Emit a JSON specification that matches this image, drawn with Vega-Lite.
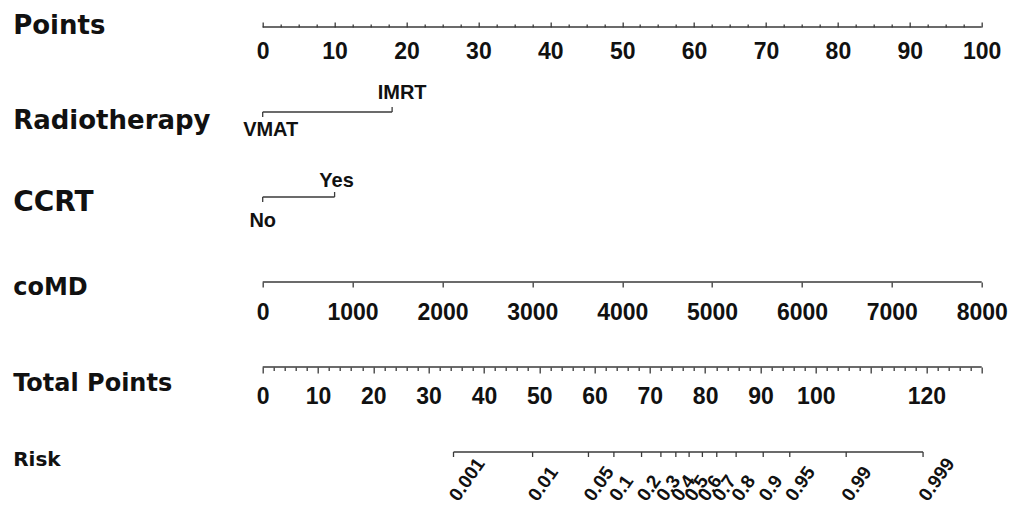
{
  "$schema": "https://vega.github.io/schema/vega-lite/v6.json",
  "background": "white",
  "padding": {"left": 12.7, "top": 5, "right": 0, "bottom": 0},
  "bounds": "flush",
  "spacing": 0,
  "config": {
    "view": {"stroke": null},
    "axis": {
      "grid": false,
      "domain": false,
      "labelFont": "Liberation Sans",
      "labelFontWeight": "bold",
      "labelFontSize": 23,
      "labelColor": "#111111",
      "labelFlush": false,
      "labelOverlap": false,
      "tickColor": "#3a3a3a",
      "tickWidth": 1.3,
      "titleFont": "DejaVu Sans",
      "titleFontWeight": "bold",
      "titleFontSize": 26,
      "titleColor": "#111111",
      "titleAlign": "left",
      "titleAngle": 0,
      "titleBaseline": "alphabetic",
      "titleX": -250
    }
  },
  "vconcat": [
    {
      "width": 719,
      "height": 22,
      "data": {"values": [{"scale": "Points", "from": 0, "to": 100}]},
      "mark": {"type": "rule", "color": "#3a3a3a", "strokeWidth": 1.3},
      "encoding": {
        "x": {
          "field": "from", "type": "quantitative",
          "scale": {"domain": [0, 100], "nice": false, "zero": false},
          "axis": {
            "title": "Points", "titleY": 6.3,
            "values": [0,2.5,5,7.5,10,12.5,15,17.5,20,22.5,25,27.5,30,32.5,35,37.5,40,42.5,45,47.5,50,52.5,55,57.5,60,62.5,65,67.5,70,72.5,75,77.5,80,82.5,85,87.5,90,92.5,95,97.5,100],
            "tickSize": {"condition": {"test": "datum.value % 10 === 0", "value": -5}, "value": -3},
            "labelExpr": "datum.value % 10 === 0 ? datum.label : ''",
            "labelPadding": 18
          }
        },
        "x2": {"field": "to"},
        "y": {"value": 22}
      }
    },
    {
      "width": 719,
      "height": 85,
      "data": {"values": [{"level": "VMAT", "pts": 0}, {"level": "IMRT", "pts": 18}]},
      "layer": [
        {
          "mark": {"type": "rule", "color": "#3a3a3a", "strokeWidth": 1.3},
          "encoding": {
            "x": {"aggregate": "min", "field": "pts", "type": "quantitative",
              "scale": {"domain": [0, 100], "nice": false, "zero": false},
              "axis": {"title": "Radiotherapy", "titleY": 16.3, "labels": false, "ticks": false}},
            "x2": {"aggregate": "max", "field": "pts"},
            "y": {"value": 85}
          }
        },
        {
          "transform": [{"filter": "datum.level == 'VMAT'"}],
          "mark": {"type": "rule", "color": "#3a3a3a", "strokeWidth": 1.3},
          "encoding": {
            "x": {"field": "pts", "type": "quantitative",
              "axis": {"title": "Radiotherapy", "titleY": 16.3, "labels": false, "ticks": false}},
            "y": {"value": 85}, "y2": {"value": 90}
          }
        },
        {
          "transform": [{"filter": "datum.level == 'IMRT'"}],
          "mark": {"type": "rule", "color": "#3a3a3a", "strokeWidth": 1.3},
          "encoding": {
            "x": {"field": "pts", "type": "quantitative",
              "axis": {"title": "Radiotherapy", "titleY": 16.3, "labels": false, "ticks": false}},
            "y": {"value": 80}, "y2": {"value": 85}
          }
        },
        {
          "transform": [{"filter": "datum.level == 'IMRT'"}],
          "mark": {"type": "text", "font": "Liberation Sans", "fontWeight": "bold", "fontSize": 20, "color": "#111111", "baseline": "alphabetic", "align": "center", "dx": 10},
          "encoding": {
            "x": {"field": "pts", "type": "quantitative",
              "axis": {"title": "Radiotherapy", "titleY": 16.3, "labels": false, "ticks": false}},
            "y": {"value": 72.3},
            "text": {"field": "level"}
          }
        },
        {
          "transform": [{"filter": "datum.level == 'VMAT'"}],
          "mark": {"type": "text", "font": "Liberation Sans", "fontWeight": "bold", "fontSize": 20, "color": "#111111", "baseline": "alphabetic", "align": "center", "dx": 8},
          "encoding": {
            "x": {"field": "pts", "type": "quantitative",
              "axis": {"title": "Radiotherapy", "titleY": 16.3, "labels": false, "ticks": false}},
            "y": {"value": 109.3},
            "text": {"field": "level"}
          }
        }
      ]
    },
    {
      "width": 719,
      "height": 85,
      "data": {"values": [{"level": "No", "pts": 0}, {"level": "Yes", "pts": 10}]},
      "layer": [
        {
          "mark": {"type": "rule", "color": "#3a3a3a", "strokeWidth": 1.3},
          "encoding": {
            "x": {"aggregate": "min", "field": "pts", "type": "quantitative",
              "scale": {"domain": [0, 100], "nice": false, "zero": false},
              "axis": {"title": "CCRT", "titleY": 13.3, "titleFontSize": 28, "labels": false, "ticks": false}},
            "x2": {"aggregate": "max", "field": "pts"},
            "y": {"value": 85}
          }
        },
        {
          "transform": [{"filter": "datum.level == 'No'"}],
          "mark": {"type": "rule", "color": "#3a3a3a", "strokeWidth": 1.3},
          "encoding": {
            "x": {"field": "pts", "type": "quantitative",
              "axis": {"title": "CCRT", "titleY": 13.3, "titleFontSize": 28, "labels": false, "ticks": false}},
            "y": {"value": 85}, "y2": {"value": 90}
          }
        },
        {
          "transform": [{"filter": "datum.level == 'Yes'"}],
          "mark": {"type": "rule", "color": "#3a3a3a", "strokeWidth": 1.3},
          "encoding": {
            "x": {"field": "pts", "type": "quantitative",
              "axis": {"title": "CCRT", "titleY": 13.3, "titleFontSize": 28, "labels": false, "ticks": false}},
            "y": {"value": 80}, "y2": {"value": 85}
          }
        },
        {
          "transform": [{"filter": "datum.level == 'Yes'"}],
          "mark": {"type": "text", "font": "Liberation Sans", "fontWeight": "bold", "fontSize": 20, "color": "#111111", "baseline": "alphabetic", "align": "center", "dx": 2},
          "encoding": {
            "x": {"field": "pts", "type": "quantitative",
              "axis": {"title": "CCRT", "titleY": 13.3, "titleFontSize": 28, "labels": false, "ticks": false}},
            "y": {"value": 75},
            "text": {"field": "level"}
          }
        },
        {
          "transform": [{"filter": "datum.level == 'No'"}],
          "mark": {"type": "text", "font": "Liberation Sans", "fontWeight": "bold", "fontSize": 20, "color": "#111111", "baseline": "alphabetic", "align": "center", "dx": 0},
          "encoding": {
            "x": {"field": "pts", "type": "quantitative",
              "axis": {"title": "CCRT", "titleY": 13.3, "titleFontSize": 28, "labels": false, "ticks": false}},
            "y": {"value": 115},
            "text": {"field": "level"}
          }
        }
      ]
    },
    {
      "width": 719,
      "height": 85,
      "data": {"values": [{"scale": "coMD", "from": 0, "to": 8000}]},
      "mark": {"type": "rule", "color": "#3a3a3a", "strokeWidth": 1.3},
      "encoding": {
        "x": {
          "field": "from", "type": "quantitative",
          "scale": {"domain": [0, 8000], "nice": false, "zero": false},
          "axis": {
            "title": "coMD", "titleY": 13, "titleFontSize": 24,
            "values": [0,1000,2000,3000,4000,5000,6000,7000,8000],
            "format": "d",
            "tickSize": 5,
            "labelPadding": 14.6
          }
        },
        "x2": {"field": "to"},
        "y": {"value": 85}
      }
    },
    {
      "width": 719,
      "height": 85,
      "data": {"values": [{"scale": "Total Points", "from": 0, "to": 130}]},
      "mark": {"type": "rule", "color": "#3a3a3a", "strokeWidth": 1.3},
      "encoding": {
        "x": {
          "field": "from", "type": "quantitative",
          "scale": {"domain": [0, 130], "nice": false, "zero": false},
          "axis": {
            "title": "Total Points", "titleY": 23.5, "titleFontSize": 24,
            "values": [0,2,4,6,8,10,12,14,16,18,20,22,24,26,28,30,32,34,36,38,40,42,44,46,48,50,52,54,56,58,60,62,64,66,68,70,72,74,76,78,80,82,84,86,88,90,92,94,96,98,100,102,104,106,108,110,112,114,116,118,120,122,124,126,128,130],
            "tickSize": {"condition": {"test": "datum.value % 10 === 0", "value": 6}, "value": 3.5},
            "labelExpr": "indexof([0,10,20,30,40,50,60,70,80,90,100,120], datum.value) >= 0 ? datum.label : ''",
            "labelPadding": 13
          }
        },
        "x2": {"field": "to"},
        "y": {"value": 85}
      }
    },
    {
      "width": 719,
      "height": 85,
      "data": {"values": [
        {"risk": "0.001", "tp": 34.5},
        {"risk": "0.01", "tp": 48.8},
        {"risk": "0.05", "tp": 58.9},
        {"risk": "0.1", "tp": 63.5},
        {"risk": "0.2", "tp": 68.5},
        {"risk": "0.3", "tp": 72.0},
        {"risk": "0.4", "tp": 74.7},
        {"risk": "0.5", "tp": 77.1},
        {"risk": "0.6", "tp": 79.5},
        {"risk": "0.7", "tp": 82.1},
        {"risk": "0.8", "tp": 85.6},
        {"risk": "0.9", "tp": 90.5},
        {"risk": "0.95", "tp": 95.3},
        {"risk": "0.99", "tp": 105.5},
        {"risk": "0.999", "tp": 119.4}
      ]},
      "layer": [
        {
          "mark": {"type": "rule", "color": "#3a3a3a", "strokeWidth": 1.3},
          "encoding": {
            "x": {"aggregate": "min", "field": "tp", "type": "quantitative",
              "scale": {"domain": [0, 130], "nice": false, "zero": false},
              "axis": {"title": "Risk", "titleY": 14, "titleFontSize": 20, "labels": false, "ticks": false}},
            "x2": {"aggregate": "max", "field": "tp"},
            "y": {"value": 85}
          }
        },
        {
          "mark": {"type": "rule", "color": "#3a3a3a", "strokeWidth": 1.3},
          "encoding": {
            "x": {"field": "tp", "type": "quantitative",
              "axis": {"title": "Risk", "titleY": 14, "titleFontSize": 20, "labels": false, "ticks": false}},
            "y": {"value": 85}, "y2": {"value": 90}
          }
        },
        {
          "mark": {"type": "text", "font": "Liberation Sans", "fontWeight": "bold", "fontSize": 19, "color": "#111111", "baseline": "middle", "align": "left", "angle": -55},
          "encoding": {
            "x": {"field": "tp", "type": "quantitative",
              "axis": {"title": "Risk", "titleY": 14, "titleFontSize": 20, "labels": false, "ticks": false}},
            "y": {"value": 132},
            "text": {"field": "risk"}
          }
        }
      ]
    }
  ]
}
